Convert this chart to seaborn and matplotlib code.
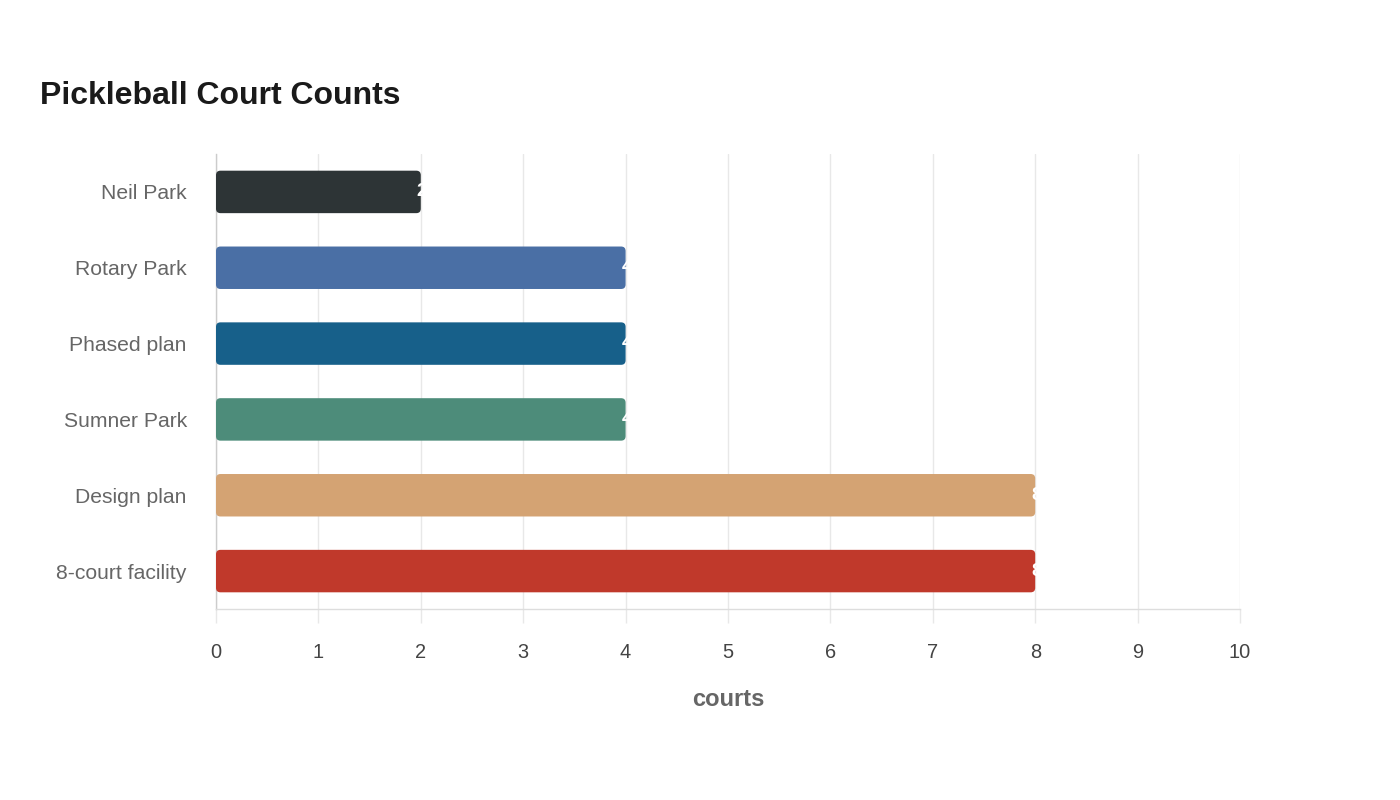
import matplotlib
matplotlib.use("Agg")
import matplotlib.pyplot as plt
import seaborn as sns
import pandas as pd
from matplotlib.patches import FancyBboxPatch

categories = ["Neil Park", "Rotary Park", "Phased plan", "Sumner Park", "Design plan", "8-court facility"]
courts = [2, 4, 4, 4, 8, 8]
colors = ["#2d3436", "#4a6fa5", "#17608a", "#4d8c7a", "#d4a373", "#c0392b"]
x_ticks = list(range(0, 11))

sns.set_theme(style="white")
plt.rcParams["font.family"] = ["Liberation Sans", "DejaVu Sans"]

df = pd.DataFrame({"category": categories, "courts": courts})

fig = plt.figure(figsize=(14, 8), dpi=100)
ax = fig.add_axes([216/1400, 1-609/800, (1240-216)/1400, (609-154)/800])

sns.barplot(data=df, y="category", x="courts", hue="category", palette=colors,
            order=categories, hue_order=categories, width=0.56, legend=False,
            saturation=1, ax=ax, zorder=3)

ax.set_xlim(0, 10)
ax.set_ylim(5.5, -0.5)

# rounded bars
px_x = 1024 / 10.0
px_y = 455 / 6.0
r = 4.5 / px_x
aspect = px_x / px_y
for p in list(ax.patches):
    x0, y0 = p.get_x(), p.get_y()
    w, h = p.get_width(), p.get_height()
    fc = p.get_facecolor()
    p.set_visible(False)
    fb = FancyBboxPatch((x0, y0), w, h,
                        boxstyle=f"round,pad=0,rounding_size={r}",
                        mutation_aspect=aspect, facecolor=fc, edgecolor="none",
                        zorder=3)
    ax.add_patch(fb)

# value labels (white, mostly outside the bar)
for i, v in enumerate(courts):
    ax.text(v - 4 / px_x, i, str(v), ha="left", va="center", color="white",
            fontsize=14, fontweight="bold", zorder=4)

ax.set_xticks(x_ticks)
ax.set_xticklabels([str(t) for t in x_ticks])
ax.grid(axis="x", color="#e8e8e8", linewidth=1, zorder=0)
ax.grid(axis="y", visible=False)

for s in ["top", "right"]:
    ax.spines[s].set_visible(False)
ax.spines["left"].set_color("#cccccc")
ax.spines["bottom"].set_color("#dddddd")
ax.spines["left"].set_linewidth(1)
ax.spines["bottom"].set_linewidth(1)

ax.tick_params(axis="x", length=10, width=1, color="#e8e8e8", pad=14.5,
               labelsize=14.4, labelcolor="#444444", bottom=True)
ax.tick_params(axis="y", length=0, pad=21, labelsize=15.2, labelcolor="#666666")

ax.set_ylabel("")
ax.set_xlabel("courts", fontsize=17, fontweight="bold", color="#666666", labelpad=19)

fig.text(40/1400, 1-96/800, "Pickleball Court Counts", fontsize=23, fontweight="bold",
         color="#1a1a1a", ha="left", va="center")

fig.savefig("out.png", dpi=100, facecolor="white")
